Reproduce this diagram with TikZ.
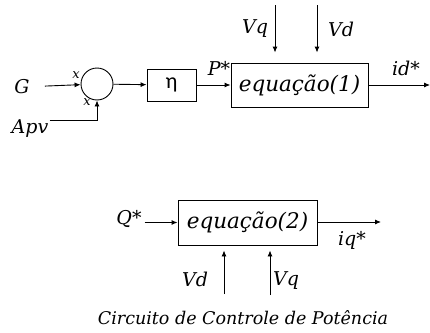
\documentclass[tikz,border=0pt]{standalone}
\usepackage{fontspec}
\setmainfont{DejaVu Serif}
\newfontfamily\etafont{Carlito}
\usetikzlibrary{positioning, arrows.meta}

\begin{document}
\begin{tikzpicture}[
    x=1pt, y=-1pt,
    font=\fontsize{19}{22}\selectfont\itshape,
    box/.style={
        draw,
        line width=0.9pt,
        inner sep=0pt
    },
    eqbox/.style={
        box,
        font=\fontsize{21.5}{24}\selectfont\itshape
    },
    lbl/.style={
        inner sep=1pt
    },
    arrow/.style={
        -{Latex[length=6pt,width=5pt]},
        line width=0.9pt
    }
]
\useasboundingbox (0,0) rectangle (430,332);

% upper loop
\node[box, circle, minimum size=32pt] (sum) at (97,84) {};
\node[box, minimum width=49pt, minimum height=32pt, font=\fontsize{22}{24}\selectfont\etafont] (gain) at (171.5,85) {η};
\node[eqbox, minimum width=137pt, minimum height=44pt] (eqone) at (299.5,85) {equação(1)};

\node[lbl] (G) at (22,87) {G};
\node[lbl] (Apv) at (30,129) {Apv};
\node[lbl, font=\fontsize{13}{14}\selectfont\itshape] (xa) at (76,75) {x};
\node[lbl, font=\fontsize{13}{14}\selectfont\itshape] (xb) at (87,102) {x};
\node[lbl] (Pstar) at (219,68) {P*};
\node[lbl] (Vqa) at (255,29) {Vq};
\node[lbl] (Vda) at (341,29) {Vd};
\node[lbl] (idstar) at (406,68) {id*};

\coordinate (vqtop) at (275,5);
\coordinate (vdtop) at (317,5);
\coordinate (idout) at (430,85);

\draw[arrow, shorten <=14pt] (G) -- (sum);
\draw[arrow] ([yshift=-2pt]Apv.north east) -| (sum.south);
\draw[arrow] (sum) -- (gain);
\draw[arrow] (gain) -- (eqone);
\draw[arrow, shorten >=10pt] (vqtop) -- (vqtop |- eqone.north);
\draw[arrow, shorten >=10pt] (vdtop) -- (vdtop |- eqone.north);
\draw[arrow] (eqone) -- (idout);

% lower loop
\node[eqbox, minimum width=139pt, minimum height=45pt] (eqtwo) at (247.5,222.5) {equação(2)};

\node[lbl] (Qstar) at (129,219) {Q*};
\node[lbl] (iqstar) at (352,240) {iq*};
\node[lbl] (Vdb) at (195,279) {Vd};
\node[lbl] (Vqb) at (286,281) {Vq};
\node[lbl, font=\fontsize{17.5}{20}\selectfont\itshape] (caption) at (243,318) {Circuito de Controle de Potência};

\coordinate (vdbot) at (224,294);
\coordinate (vqbot) at (270,295);
\coordinate (iqout) at (381,222);

\draw[arrow, shorten <=2pt] (Qstar.east |- eqtwo) -- (eqtwo);
\draw[arrow] (eqtwo.east |- iqout) -- (iqout);
\draw[arrow, shorten >=5pt] (vdbot) -- (vdbot |- eqtwo.south);
\draw[arrow, shorten >=5pt] (vqbot) -- (vqbot |- eqtwo.south);

\end{tikzpicture}
\end{document}
